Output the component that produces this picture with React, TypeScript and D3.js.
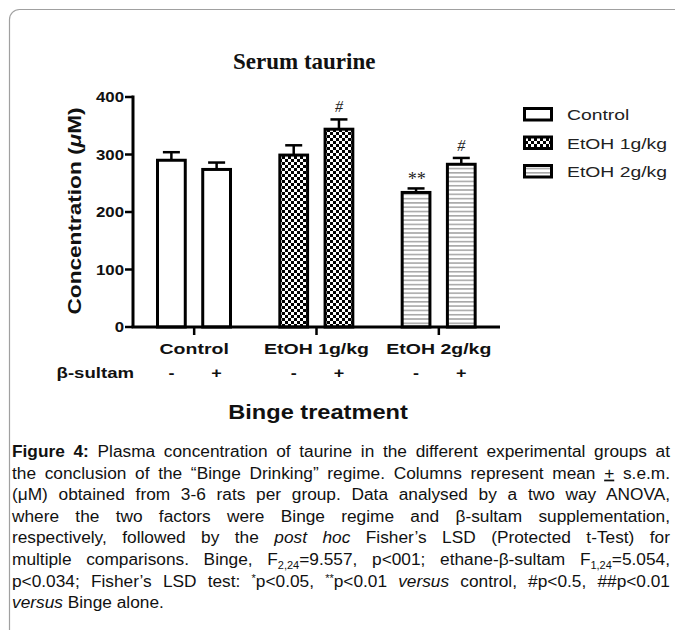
import React, { useRef, useEffect } from 'react';
import * as d3 from 'd3';

// chart values
const groups = ['Control', 'EtOH 1g/kg', 'EtOH 2g/kg'];
const sultam = ['-', '+'];
const controlMean = [290, 274];
const etoh1Mean = [299, 344];
const etoh2Mean = [234, 283];
const controlSem = [14, 12];
const etoh1Sem = [17, 17];
const etoh2Sem = [7, 11];
const marks = [['', ''], ['', '#'], ['**', '#']];
const yTicks = [0, 100, 200, 300, 400];

type Seg = { t: string; b?: boolean; i?: boolean; sub?: boolean; sup?: boolean; u?: boolean };

const caption: Seg[][] = [
  [{ t: 'Figure 4:', b: true }, { t: ' Plasma concentration of taurine in the different experimental groups at' }],
  [{ t: 'the conclusion of the “Binge Drinking” regime. Columns represent mean ' }, { t: '+', u: true }, { t: ' s.e.m.' }],
  [{ t: '(μM) obtained from 3-6 rats per group. Data analysed by a two way ANOVA,' }],
  [{ t: 'where the two factors were Binge regime and β-sultam supplementation,' }],
  [{ t: 'respectively, followed by the ' }, { t: 'post hoc', i: true }, { t: ' Fisher’s LSD (Protected t-Test) for' }],
  [{ t: 'multiple comparisons. Binge, F' }, { t: '2,24', sub: true }, { t: '=9.557, p<001; ethane-β-sultam F' }, { t: '1,24', sub: true }, { t: '=5.054,' }],
  [{ t: 'p<0.034; Fisher’s LSD test: ' }, { t: '*', sup: true }, { t: 'p<0.05, ' }, { t: '**', sup: true }, { t: 'p<0.01 ' }, { t: 'versus', i: true }, { t: ' control, #p<0.5, ##p<0.01' }],
  [{ t: 'versus', i: true }, { t: ' Binge alone.' }],
];

const SANS = '"Liberation Sans", Arial, sans-serif';

const StretchText: React.FC<any> = ({ x, y, sx = 1, rotate = 0, children, ...rest }) => (
  <text transform={`translate(${x},${y}) rotate(${rotate}) scale(${sx},1)`} fontFamily={SANS} {...rest}>
    {children}
  </text>
);

const App: React.FC = () => {
  const capRef = useRef<SVGGElement>(null);

  const means = [controlMean, etoh1Mean, etoh2Mean];
  const sems = [controlSem, etoh1Sem, etoh2Sem];
  const fills = ['#fff', 'url(#checker)', 'url(#hlines)'];

  const x0 = d3.scaleBand<string>().domain(groups).range([133, 500]).padding(0);
  const x1 = d3.scaleBand<string>().domain(sultam).range([23, 99]).paddingInner(0.32);
  const y = d3.scaleLinear().domain([0, 400]).range([327, 97]);

  const capLeft = 12;
  const capRight = 670;
  const capTop = 457;
  const capStep = 21.6;

  useEffect(() => {
    if (!capRef.current) return;
    const lines = d3.select(capRef.current).selectAll<SVGTextElement, unknown>('text.cap');
    const n = lines.size();
    lines.each(function (_d, i) {
      if (i === n - 1) return;
      const w = this.getComputedTextLength();
      const spaces = (this.textContent || '').split(' ').length - 1;
      if (spaces > 0) d3.select(this).attr('word-spacing', (capRight - capLeft - w) / spaces);
    });
  }, []);

  const segOffset = (s: Seg) => (s.sub ? 4 : s.sup ? -5 : 0);

  return (
    <svg width={675} height={630} style={{ position: 'absolute', left: 0, top: 0, display: 'block' }}>
      <defs>
        <pattern id="checker" width={6} height={6} patternUnits="userSpaceOnUse">
          <rect width={6} height={6} fill="#fff" />
          <rect width={3} height={3} fill="#000" />
          <rect x={3} y={3} width={3} height={3} fill="#000" />
        </pattern>
        <pattern id="hlines" width={4.3} height={4.3} patternUnits="userSpaceOnUse">
          <rect width={4.3} height={4.3} fill="#fff" />
          <rect y={0} width={4.3} height={1.6} fill="#a8a8a8" />
        </pattern>
      </defs>

      {/* page frame */}
      <rect x={9.5} y={9.5} width={800} height={800} rx={10} fill="none" stroke="#a0a0a0" strokeWidth={1.2} />

      <text x={233} y={69} fontFamily='"Liberation Serif", "Times New Roman", serif' fontWeight="bold" fontSize={23} fill="#111">
        Serum taurine
      </text>

      {/* bars */}
      {groups.map((g, gi) =>
        sultam.map((s, si) => {
          const bx = (x0(g) as number) + (x1(s) as number);
          const bw = x1.bandwidth();
          const cx = bx + bw / 2;
          const v = means[gi][si];
          const e = sems[gi][si];
          return (
            <g key={g + s}>
              <line x1={cx} x2={cx} y1={y(v)} y2={y(v + e)} stroke="#000" strokeWidth={2.5} />
              <line x1={cx - 8.5} x2={cx + 8.5} y1={y(v + e)} y2={y(v + e)} stroke="#000" strokeWidth={2.5} />
              <rect x={bx + 1.5} y={y(v)} width={bw - 3} height={y(0) - y(v)} fill={fills[gi]} stroke="#000" strokeWidth={3} />
              {marks[gi][si] && (
                <text
                  x={cx}
                  y={y(v + e) - (marks[gi][si] === '**' ? 3 : 7)}
                  textAnchor="middle"
                  fontFamily='"Liberation Serif", serif'
                  fontStyle="italic"
                  fontSize={marks[gi][si] === '**' ? 18 : 16}
                  fill="#222"
                >
                  {marks[gi][si]}
                </text>
              )}
              <StretchText x={cx} y={378} sx={1.2} textAnchor="middle" fontWeight="bold" fontSize={15} fill="#111">
                {s}
              </StretchText>
            </g>
          );
        })
      )}

      {/* y axis */}
      <line x1={133} x2={133} y1={y(400) - 1.5} y2={y(0)} stroke="#000" strokeWidth={3} />
      {yTicks.map((t) => (
        <g key={t}>
          <line x1={125} x2={133} y1={y(t)} y2={y(t)} stroke="#000" strokeWidth={2.5} />
          <StretchText x={124} y={y(t) + 5} sx={1.2} textAnchor="end" fontWeight="bold" fontSize={14} fill="#111">
            {t}
          </StretchText>
        </g>
      ))}

      {/* x axis */}
      <line x1={131.5} x2={500} y1={y(0)} y2={y(0)} stroke="#000" strokeWidth={3} />
      {groups.map((g) => {
        const cx = (x0(g) as number) + x0.bandwidth() / 2;
        return (
          <g key={g}>
            <line x1={cx} x2={cx} y1={y(0)} y2={y(0) + 8} stroke="#000" strokeWidth={2.5} />
            <StretchText x={cx} y={354} sx={1.3} textAnchor="middle" fontWeight="bold" fontSize={15} fill="#111">
              {g}
            </StretchText>
          </g>
        );
      })}

      <StretchText x={134} y={378} sx={1.24} textAnchor="end" fontWeight="bold" fontSize={15} fill="#111">
        β-sultam
      </StretchText>
      <StretchText x={318} y={419} sx={1.18} textAnchor="middle" fontWeight="bold" fontSize={20} fill="#111">
        Binge treatment
      </StretchText>
      <StretchText x={81} y={211} rotate={-90} sx={1.19} textAnchor="middle" fontWeight="bold" fontSize={19} fill="#111">
        Concentration (<tspan fontStyle="italic">μ</tspan>M)
      </StretchText>

      {/* legend */}
      {groups.map((g, i) => (
        <g key={g}>
          <rect x={524.5} y={108.5 + i * 28.5} width={27} height={11.5} fill={fills[i]} stroke="#000" strokeWidth={3} />
          <StretchText x={567} y={120 + i * 28.5} sx={1.29} fontSize={15} fill="#222">
            {g}
          </StretchText>
        </g>
      ))}

      {/* caption */}
      <g ref={capRef}>
        {caption.map((line, li) => (
          <text
            key={li}
            className="cap"
            x={capLeft}
            y={capTop + li * capStep}
            fontFamily={SANS}
            fontSize={17.3}
            fill="#111"
            style={{ whiteSpace: 'pre' }}
          >
            {line.map((s, si) => {
              const prev = si > 0 ? segOffset(line[si - 1]) : 0;
              const dy = segOffset(s) - prev;
              return (
                <tspan
                  key={si}
                  dy={dy || undefined}
                  fontWeight={s.b ? 'bold' : undefined}
                  fontStyle={s.i ? 'italic' : undefined}
                  fontSize={s.sub || s.sup ? 11 : undefined}
                  textDecoration={s.u ? 'underline' : undefined}
                >
                  {s.t}
                </tspan>
              );
            })}
          </text>
        ))}
      </g>
    </svg>
  );
};

export default App;
